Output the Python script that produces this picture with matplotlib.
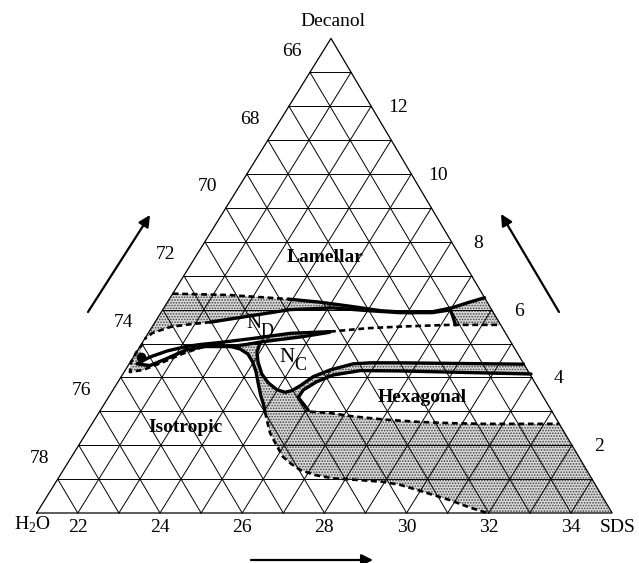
import numpy as np
import matplotlib.pyplot as plt
from matplotlib.transforms import Affine2D

plt.rcParams['font.family'] = ['Liberation Serif', 'DejaVu Serif']
plt.rcParams['mathtext.fontset'] = 'custom'
plt.rcParams['mathtext.rm'] = 'Liberation Serif'
plt.rcParams['hatch.linewidth'] = 0.8

# window of the ternary diagram (wt%) : SDS 21-35, decanol 0-14, water 65-79
sds_ticks = [22, 24, 26, 28, 30, 32, 34]
dec_ticks = [2, 4, 6, 8, 10, 12]
h2o_ticks = [66, 68, 70, 72, 74, 76, 78]

# phase boundaries, given as (SDS wt%, decanol wt%)
# dashed, top of the left biphasic band
d1_sds = [21.0, 22.4, 23.9]
d1_dec = [6.47, 6.43, 6.31]
# lamellar lower boundary (solid)
l1_sds = [23.9, 24.7, 25.5, 26.3, 27.05, 27.6, 28.0, 28.35, 28.65]
l1_dec = [6.31, 6.22, 6.1, 5.97, 5.91, 5.94, 6.05, 6.22, 6.35]
# N_D upper boundary (solid)
l2_sds = [22.35, 23.2, 24.1, 25.1, 26.0, 26.8, 27.6, 28.0, 28.15, 28.35]
l2_dec = [5.63, 5.81, 6.0, 6.05, 5.97, 5.91, 5.91, 5.99, 5.81, 5.55]
# dashed, bottom of the left biphasic band
d1b_sds = [22.35, 21.9, 21.45, 21.1, 21.0]
d1b_dec = [5.63, 5.57, 5.49, 5.31, 5.13]
# dashed, N_D lower boundary on the right
d2_sds = [25.4, 26.25, 27.05, 28.2, 29.45]
d2_dec = [5.35, 5.45, 5.5, 5.55, 5.55]
# N_D lower boundary (solid) and lower side of the tongue
l3_sds = [22.12, 22.43, 22.89, 23.63, 24.46, 25.4]
l3_dec = [4.91, 4.97, 5.03, 5.15, 5.3, 5.35]
tongue_sds = [23.2, 23.55, 23.9, 24.8, 25.4]
tongue_dec = [4.91, 4.97, 5.05, 5.2, 5.33]
# small closed loop near the water-decanol side
loop_sds = [22.12, 21.73, 21.4, 21.19, 21.53, 21.84, 22.17, 22.58, 23.19]
loop_dec = [4.91, 4.78, 4.6, 4.4, 4.35, 4.56, 4.81, 4.91, 4.91]
dot_sds, dot_dec = [21.18], [4.59]
d5_sds = [21.03, 21.0, 21.02, 21.14, 21.43, 21.8, 22.15, 22.54, 22.92]
d5_dec = [5.0, 4.75, 4.45, 4.16, 4.22, 4.45, 4.7, 4.9, 4.97]
# N_C lower boundary, continuing as upper line of the N_C + hexagonal band
nc_sds = [23.87, 23.93, 24.11, 24.38, 24.67, 24.98, 25.22, 25.36, 25.49, 25.67,
          25.98, 26.45, 26.84, 27.57, 30.6]
nc_dec = [5.02, 4.75, 4.45, 4.1, 3.84, 3.64, 3.56, 3.61, 3.75, 4.02,
          4.22, 4.4, 4.43, 4.43, 4.39]
# hexagonal upper / left boundary (solid)
h2_sds = [26.05, 25.84, 25.62, 25.63, 25.83, 26.13, 26.72, 27.7, 30.93]
h2_dec = [3.04, 3.22, 3.41, 3.63, 3.87, 4.07, 4.2, 4.19, 4.1]
# isotropic boundary (solid)
s_sds = [23.14, 23.47, 23.74, 23.98, 24.21, 24.45, 24.69, 24.89, 25.03]
s_dec = [4.93, 4.84, 4.69, 4.45, 4.16, 3.8, 3.45, 3.19, 2.98]
# hexagonal lower boundary (dashed)
d3_sds = [26.12, 26.63, 27.24, 28.02, 28.88, 29.7, 30.52, 32.37]
d3_dec = [2.99, 2.95, 2.85, 2.76, 2.69, 2.65, 2.63, 2.63]
# isotropic + hexagonal lower boundary (dashed)
d4_sds = [25.03, 25.2, 25.47, 25.8, 26.14, 26.45, 26.76, 27.2, 27.69, 28.37,
          28.95, 29.42, 29.91, 30.86, 31.46, 31.96]
d4_dec = [2.98, 2.74, 2.36, 2.01, 1.66, 1.45, 1.27, 1.12, 1.02, 0.97,
          0.92, 0.83, 0.68, 0.38, 0.16, 0.0]

fig = plt.figure(figsize=(6.39, 5.63), dpi=100)
ax = fig.add_axes([0, 0, 1, 1])
ax.set_xlim(0, 639)
ax.set_ylim(563, 0)
ax.axis('off')

# (SDS, decanol) -> page
tr = Affine2D.from_values(41.1, 0, 21.02, -33.9, 36.7 - 41.1 * 21, 513) + ax.transData

# grid
for k in range(1, 14):
    ax.plot([21, 35 - k], [k, k], color='k', lw=0.7, transform=tr, zorder=2)
for v in range(22, 35):
    ax.plot([v, v], [0, 35 - v], color='k', lw=0.7, transform=tr, zorder=2)
for h in range(66, 79):
    ax.plot([21, 100 - h], [79 - h, 0], color='k', lw=0.7, transform=tr, zorder=2)
ax.plot([21, 35, 21, 21], [0, 0, 14, 0], color='k', lw=0.9, transform=tr, zorder=2)

# biphasic (shaded) regions
shade = dict(facecolor='#d9d9d9', edgecolor='#444444', linewidth=0, hatch='......',
             transform=tr, zorder=1)
pa_x = s_sds + d4_sds[1:] + [35] + d3_sds[::-1] + h2_sds + nc_sds[::-1]
pa_y = s_dec + d4_dec[1:] + [0] + d3_dec[::-1] + h2_dec + nc_dec[::-1]
ax.fill(pa_x, pa_y, **shade)
pb_x = d1_sds + l1_sds[1:5] + l2_sds[:6][::-1] + d1b_sds[1:]
pb_y = d1_dec + l1_dec[1:5] + l2_dec[:6][::-1] + d1b_dec[1:]
ax.fill(pb_x, pb_y, **shade)
pc_x = l1_sds[5:] + [d2_sds[-1]] + l2_sds[6:][::-1]
pc_y = l1_dec[5:] + [d2_dec[-1]] + l2_dec[6:][::-1]
ax.fill(pc_x, pc_y, **shade)
pd_x = l3_sds[3:] + tongue_sds[2:][::-1]
pd_y = l3_dec[3:] + tongue_dec[2:][::-1]
ax.fill(pd_x, pd_y, **shade)
pe_x = d5_sds + loop_sds[3:8][::-1]
pe_y = d5_dec + loop_dec[3:8][::-1]
ax.fill(pe_x, pe_y, **shade)

# boundaries
solid = dict(color='k', lw=2.4, solid_capstyle='round', solid_joinstyle='round',
             transform=tr, zorder=4)
dashed = dict(color='k', lw=1.9, dashes=(2.2, 1.4), transform=tr, zorder=4)
ax.plot(l1_sds, l1_dec, **solid)
ax.plot(l2_sds, l2_dec, **solid)
ax.plot(l3_sds, l3_dec, **solid)
ax.plot(tongue_sds, tongue_dec, **solid)
ax.plot(loop_sds, loop_dec, **solid)
ax.plot(nc_sds, nc_dec, **solid)
ax.plot(h2_sds, h2_dec, **solid)
ax.plot(s_sds, s_dec, **solid)
ax.plot(d1_sds, d1_dec, **dashed)
ax.plot(d1b_sds, d1b_dec, **dashed)
ax.plot(d2_sds, d2_dec, **dashed)
ax.plot(d3_sds, d3_dec, **dashed)
ax.plot(d4_sds, d4_dec, **dashed)
ax.plot(d5_sds, d5_dec, **dashed)
ax.plot(dot_sds, dot_dec, 'o', color='k', ms=6, transform=tr, zorder=5)

# tick labels
fs = 14
for v in sds_ticks:
    ax.annotate(str(v), (v, 0), xycoords=tr, xytext=(0, -15), textcoords='offset pixels',
                ha='center', va='center', fontsize=fs)
for v in dec_ticks:
    ax.annotate(str(v), (35 - v, v), xycoords=tr, xytext=(27, -1.5),
                textcoords='offset pixels', ha='center', va='center', fontsize=fs)
for v in h2o_ticks:
    ax.annotate(str(v), (21, 79 - v), xycoords=tr, xytext=(-18, 21),
                textcoords='offset pixels', ha='center', va='center', fontsize=fs)

ax.text(333, 22, 'Decanol', ha='center', va='center', fontsize=fs)
ax.text(32, 525, r'H$_2$O', ha='center', va='center', fontsize=fs)
ax.text(618, 528, 'SDS', ha='center', va='center', fontsize=fs)

ax.text(325, 257, 'Lamellar', ha='center', va='center', fontsize=fs, fontweight='bold')
ax.text(422, 398, 'Hexagonal', ha='center', va='center', fontsize=fs, fontweight='bold')
ax.text(186, 428, 'Isotropic', ha='center', va='center', fontsize=fs, fontweight='bold')
ax.text(254, 324, 'N', ha='center', va='center', fontsize=15)
ax.text(267.5, 331, 'D', ha='center', va='center', fontsize=13)
ax.text(287, 358, 'N', ha='center', va='center', fontsize=15)
ax.text(300.5, 365, 'C', ha='center', va='center', fontsize=13)

# direction arrows
arr = dict(arrowstyle='-|>', color='k', lw=1.6, mutation_scale=17, shrinkA=0, shrinkB=0)
ax.annotate('', xy=(150, 215), xytext=(88, 312), arrowprops=arr)
ax.annotate('', xy=(501, 214), xytext=(559, 312), arrowprops=arr)
ax.annotate('', xy=(373, 560), xytext=(251, 560), arrowprops=arr)

fig.savefig('out.png', dpi=100)
